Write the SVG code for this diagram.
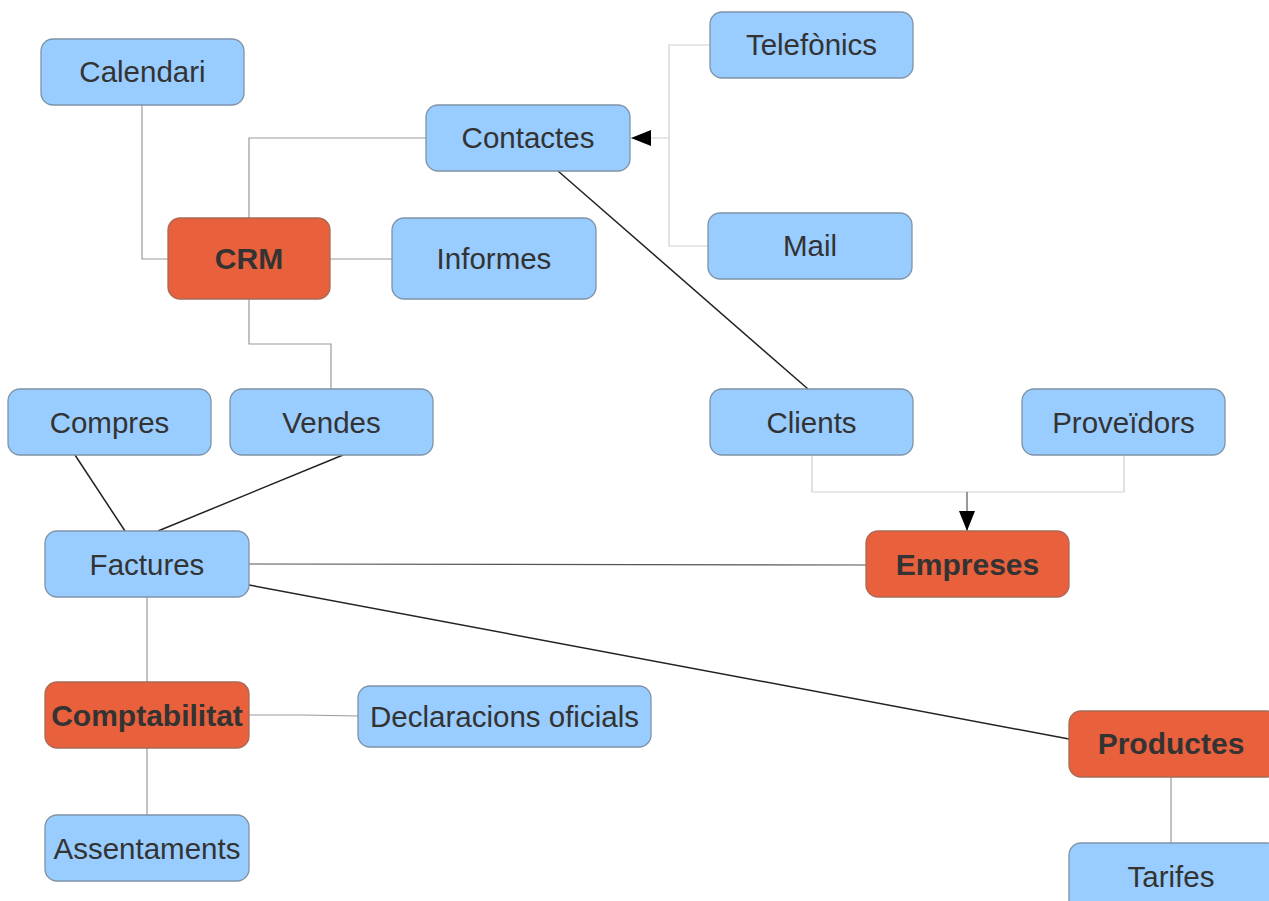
<svg xmlns="http://www.w3.org/2000/svg" width="1269" height="901" viewBox="0 0 1269 901">
<style>
.b{fill:#99ccff;stroke:#7f93a8;stroke-width:1.3}
.o{fill:#e8603c;stroke:#a86a55;stroke-width:1.3}
.t{font-family:"Liberation Sans",Arial,sans-serif;font-size:29.5px;fill:#333;text-anchor:middle}
.tb{font-family:"Liberation Sans",Arial,sans-serif;font-size:30px;font-weight:bold;fill:#333;text-anchor:middle}
.g{fill:none;stroke:#999;stroke-width:1.2}
.l{fill:none;stroke:#cfcfcf;stroke-width:1.2}
.d{fill:none;stroke:#222;stroke-width:1.5}
.m{fill:none;stroke:#555;stroke-width:1.2}
</style>
<defs>
<marker id="ar" markerWidth="20" markerHeight="16" refX="20" refY="8" orient="auto" markerUnits="userSpaceOnUse"><path d="M0,0 L20,8 L0,16 z" fill="#000"/></marker>
</defs>
<rect width="1269" height="901" fill="#fff"/>
<g id="connectors">
<path class="g" d="M142,105 V259 H168"/>
<path class="g" d="M249,218 V138 H426"/>
<path class="g" d="M330,259 H392"/>
<path class="g" d="M249,299 V344 H331 V389"/>
<path class="l" d="M710,45 H669 V246 H708"/>
<path class="l" d="M669,138 H631" marker-end="url(#ar)"/>
<path class="d" d="M558,171 L808,389"/>
<path class="d" d="M75,455 L125,531"/>
<path class="d" d="M343,455 L158,531"/>
<path class="l" d="M812,455 V492 H1124 V455"/>
<path class="m" d="M967,492 V531" marker-end="url(#ar)"/>
<path class="m" d="M249,564 L866,565"/>
<path class="d" d="M249,585 L1069,739"/>
<path class="g" d="M147,597 V682"/>
<path class="g" d="M249,715 H303 L358,716"/>
<path class="g" d="M147,748 V815"/>
<path class="g" d="M1171,777 V843"/>
</g>
<g id="calendari"><rect class="b" x="41" y="39" width="203" height="66" rx="12"/><text class="t" x="142.5" y="82">Calendari</text></g>
<g id="contactes"><rect class="b" x="426" y="105" width="204" height="66" rx="12"/><text class="t" x="528" y="148">Contactes</text></g>
<g id="telefonics"><rect class="b" x="710" y="12" width="203" height="66" rx="12"/><text class="t" x="811.5" y="55">Telefònics</text></g>
<g id="mail"><rect class="b" x="708" y="213" width="204" height="66" rx="12"/><text class="t" x="810" y="256">Mail</text></g>
<g id="crm"><rect class="o" x="168" y="218" width="162" height="81" rx="12"/><text class="tb" x="249" y="269">CRM</text></g>
<g id="informes"><rect class="b" x="392" y="218" width="204" height="81" rx="12"/><text class="t" x="494" y="269">Informes</text></g>
<g id="compres"><rect class="b" x="8" y="389" width="203" height="66" rx="12"/><text class="t" x="109.5" y="433">Compres</text></g>
<g id="vendes"><rect class="b" x="230" y="389" width="203" height="66" rx="12"/><text class="t" x="331.5" y="433">Vendes</text></g>
<g id="clients"><rect class="b" x="710" y="389" width="203" height="66" rx="12"/><text class="t" x="811.5" y="433">Clients</text></g>
<g id="proveidors"><rect class="b" x="1022" y="389" width="203" height="66" rx="12"/><text class="t" x="1123.5" y="433">Proveïdors</text></g>
<g id="factures"><rect class="b" x="45" y="531" width="204" height="66" rx="12"/><text class="t" x="147" y="575">Factures</text></g>
<g id="empreses"><rect class="o" x="866" y="531" width="203" height="66" rx="12"/><text class="tb" x="967.5" y="575">Empreses</text></g>
<g id="comptabilitat"><rect class="o" x="45" y="682" width="204" height="66" rx="12"/><text class="tb" x="147" y="726">Comptabilitat</text></g>
<g id="declaracions"><rect class="b" x="358" y="686" width="293" height="61" rx="12"/><text class="t" x="504.5" y="727">Declaracions oficials</text></g>
<g id="productes"><rect class="o" x="1069" y="711" width="210" height="66" rx="12"/><text class="tb" x="1171" y="754">Productes</text></g>
<g id="assentaments"><rect class="b" x="45" y="815" width="204" height="66" rx="12"/><text class="t" x="147" y="859">Assentaments</text></g>
<g id="tarifes"><rect class="b" x="1069" y="843" width="210" height="70" rx="12"/><text class="t" x="1171" y="887">Tarifes</text></g>
</svg>
